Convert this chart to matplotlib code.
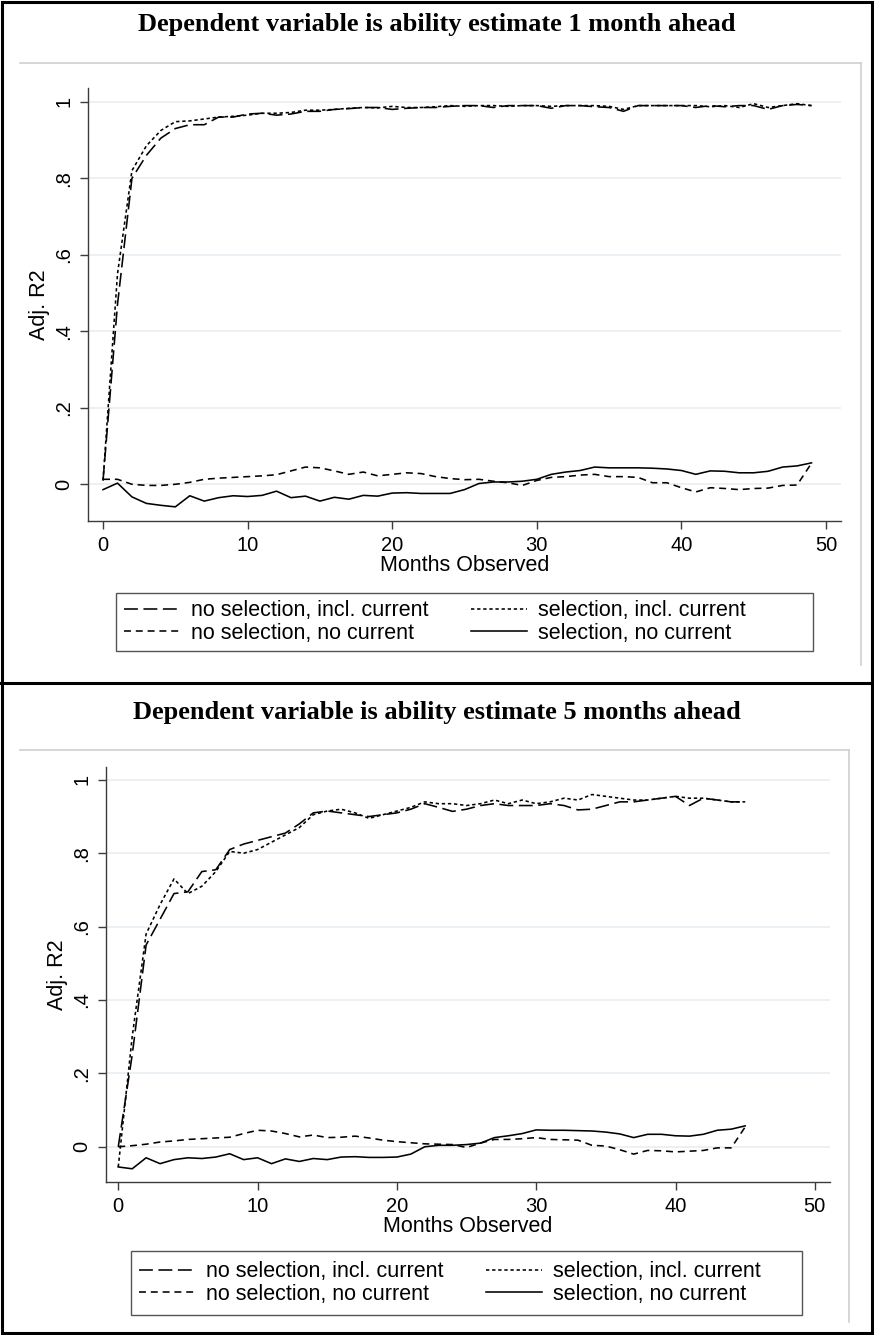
import matplotlib
matplotlib.use('Agg')
import matplotlib.pyplot as plt
from matplotlib.lines import Line2D
from matplotlib.patches import Rectangle

plt.rcParams['font.family'] = ['Liberation Sans', 'DejaVu Sans']
plt.rcParams['lines.scale_dashes'] = False

# ---- data: panel 1 (ability estimate 1 month ahead) ----
months_1 = list(range(50))
nosel_incl_1 = [0.01, 0.47, 0.80, 0.86, 0.905, 0.93, 0.94, 0.94, 0.96, 0.96,
                0.968, 0.97, 0.965, 0.968, 0.975, 0.975, 0.98, 0.982, 0.985, 0.985,
                0.98, 0.983, 0.985, 0.985, 0.988, 0.99, 0.99, 0.985, 0.99, 0.99,
                0.99, 0.983, 0.99, 0.99, 0.987, 0.985, 0.975, 0.99, 0.99, 0.99,
                0.99, 0.985, 0.99, 0.987, 0.99, 0.99, 0.98, 0.99, 0.993, 0.99]
sel_incl_1 = [0.01, 0.55, 0.82, 0.885, 0.925, 0.948, 0.95, 0.955, 0.96, 0.962,
              0.965, 0.97, 0.97, 0.972, 0.978, 0.978, 0.98, 0.983, 0.985, 0.984,
              0.988, 0.985, 0.985, 0.987, 0.99, 0.988, 0.99, 0.99, 0.988, 0.99,
              0.99, 0.988, 0.99, 0.99, 0.99, 0.988, 0.98, 0.99, 0.99, 0.99,
              0.99, 0.99, 0.987, 0.99, 0.985, 0.995, 0.985, 0.99, 0.995, 0.99]
nosel_nocur_1 = [0.013, 0.013, 0.0, -0.003, -0.003, 0.0, 0.005, 0.013, 0.016, 0.018,
                 0.02, 0.022, 0.025, 0.035, 0.045, 0.043, 0.035, 0.026, 0.032, 0.022,
                 0.026, 0.03, 0.028, 0.02, 0.015, 0.012, 0.013, 0.008, 0.004, -0.003,
                 0.01, 0.018, 0.02, 0.024, 0.026, 0.02, 0.02, 0.018, 0.004, 0.004,
                 -0.009, -0.02, -0.009, -0.011, -0.014, -0.011, -0.01, -0.003, -0.002, 0.055]
sel_nocur_1 = [-0.014, 0.003, -0.033, -0.05, -0.055, -0.059, -0.03, -0.044, -0.035, -0.03,
               -0.032, -0.029, -0.018, -0.035, -0.031, -0.044, -0.034, -0.039, -0.029, -0.031,
               -0.023, -0.022, -0.024, -0.024, -0.024, -0.014, 0.002, 0.006, 0.006, 0.008,
               0.013, 0.026, 0.032, 0.036, 0.045, 0.043, 0.043, 0.043, 0.042, 0.04,
               0.036, 0.026, 0.035, 0.034, 0.03, 0.03, 0.034, 0.045, 0.048, 0.056]

# ---- data: panel 2 (ability estimate 5 months ahead) ----
months_5 = list(range(46))
nosel_incl_5 = [0.0, 0.25, 0.55, 0.62, 0.69, 0.695, 0.75, 0.755, 0.81, 0.825,
                0.835, 0.845, 0.855, 0.88, 0.91, 0.915, 0.91, 0.905, 0.90, 0.905,
                0.91, 0.92, 0.935, 0.925, 0.914, 0.92, 0.93, 0.935, 0.93, 0.93,
                0.93, 0.935, 0.93, 0.918, 0.92, 0.93, 0.94, 0.94, 0.945, 0.95,
                0.955, 0.93, 0.95, 0.945, 0.94, 0.94]
sel_incl_5 = [-0.055, 0.30, 0.58, 0.66, 0.73, 0.69, 0.71, 0.75, 0.805, 0.80,
              0.81, 0.83, 0.85, 0.87, 0.905, 0.915, 0.92, 0.91, 0.895, 0.905,
              0.915, 0.925, 0.94, 0.935, 0.935, 0.93, 0.935, 0.945, 0.935, 0.945,
              0.935, 0.94, 0.95, 0.945, 0.96, 0.955, 0.95, 0.945, 0.945, 0.95,
              0.955, 0.95, 0.95, 0.945, 0.94, 0.94]
nosel_nocur_5 = [0.0, 0.003, 0.007, 0.013, 0.016, 0.02, 0.022, 0.024, 0.026, 0.036,
                 0.045, 0.043, 0.036, 0.027, 0.032, 0.025, 0.026, 0.029, 0.024, 0.018,
                 0.014, 0.011, 0.008, 0.007, 0.006, -0.002, 0.01, 0.02, 0.02, 0.022,
                 0.025, 0.02, 0.019, 0.018, 0.004, 0.002, -0.008, -0.02, -0.01, -0.011,
                 -0.014, -0.012, -0.01, -0.003, -0.003, 0.054]
sel_nocur_5 = [-0.055, -0.06, -0.03, -0.046, -0.035, -0.03, -0.032, -0.028, -0.019, -0.035,
               -0.03, -0.046, -0.033, -0.04, -0.032, -0.035, -0.028, -0.027, -0.029, -0.029,
               -0.028, -0.02, 0.0, 0.004, 0.004, 0.006, 0.01, 0.025, 0.03, 0.036,
               0.046, 0.045, 0.045, 0.044, 0.043, 0.04, 0.035, 0.025, 0.034, 0.034,
               0.03, 0.029, 0.034, 0.045, 0.048, 0.057]

y_ticks = [0, 0.2, 0.4, 0.6, 0.8, 1.0]
y_tick_labels = ['0', '.2', '.4', '.6', '.8', '1']
x_ticks = [0, 10, 20, 30, 40, 50]
series_labels = ['no selection, incl. current', 'selection, incl. current',
                 'no selection, no current', 'selection, no current']
titles = ['Dependent variable is ability estimate 1 month ahead',
          'Dependent variable is ability estimate 5 months ahead']

W, H = 874, 1335
fig = plt.figure(figsize=(W / 100, H / 100), dpi=100)


def rect(left, top, right, bottom):
    # pixel box (origin top-left) -> figure fraction [x, y, w, h]
    return [left / W, 1 - bottom / H, (right - left) / W, (bottom - top) / H]


def fig_line(xs, ys, **kw):
    fig.add_artist(Line2D([x / W for x in xs], [1 - y / H for y in ys],
                          transform=fig.transFigure, **kw))


# line styles: long dash, short dash (dotted look), dash, solid
styles = [dict(linestyle=(0, (10, 4))),
          dict(linestyle=(0, (2.4, 2.0))),
          dict(linestyle=(0, (5, 3.5))),
          dict(linestyle='-')]

axis_col = '#3c3c3c'
grid_col = '#e6eef1'


def draw_panel(box, xlim, ylim, x, series, title, title_y, region, legend_box):
    # title
    fig.text(0.5, 1 - title_y / H, title, ha='center', va='center',
             family=['Liberation Serif', 'DejaVu Serif'], weight='bold', size=19)

    # light grey graph-region outline (top and right edges)
    gx0, gy0, gx1, gy1 = region
    fig_line([gx0, gx1], [gy0, gy0], color='#cfcfcf', lw=1.2)
    fig_line([gx1, gx1], [gy0, gy1], color='#cfcfcf', lw=1.2)

    ax = fig.add_axes(rect(*box))
    handles = []
    for ys, st in zip(series, styles):
        h, = ax.plot(x, ys, color='black', lw=1.15, **st)
        handles.append(h)

    ax.set_xlim(*xlim)
    ax.set_ylim(*ylim)
    ax.set_xticks(x_ticks)
    ax.set_yticks(y_ticks)
    ax.set_yticklabels(y_tick_labels, rotation=90, va='center')
    ax.tick_params(axis='both', direction='out', length=6, width=1,
                   color=axis_col, labelsize=14.5, labelcolor='black')
    ax.tick_params(axis='x', pad=5)
    ax.tick_params(axis='y', pad=4.5)
    for side in ['top', 'right']:
        ax.spines[side].set_visible(False)
    for side in ['left', 'bottom']:
        ax.spines[side].set_color(axis_col)
        ax.spines[side].set_linewidth(1.0)
    ax.yaxis.grid(True, color=grid_col, lw=1.2)
    ax.set_axisbelow(True)

    ax.set_xlabel('Months Observed', fontsize=15.5, labelpad=0)
    ax.set_ylabel('Adj. R2', fontsize=15.5, labelpad=3)

    # legend box drawn by hand (Stata keeps equal-width columns)
    lx0, ly0, lx1, ly1 = legend_box
    fig.add_artist(Rectangle((lx0 / W, 1 - ly1 / H), (lx1 - lx0) / W, (ly1 - ly0) / H,
                             fill=False, edgecolor='#555555', lw=1.0,
                             transform=fig.transFigure))
    order = [0, 2, 1, 3]
    ax.legend([handles[i] for i in order], [series_labels[i] for i in order],
              ncol=2, loc='center left',
              bbox_to_anchor=((lx0 + 8) / W, 1 - (ly0 + ly1) / 2 / H),
              bbox_transform=fig.transFigure, borderaxespad=0, borderpad=0,
              frameon=False, fontsize=15.5, handlelength=2.6, handletextpad=0.5,
              columnspacing=2.0, labelspacing=0.05)
    return ax


draw_panel(box=(88, 88, 841, 521), xlim=(-1.04, 51.04), ylim=(-0.096, 1.036),
           x=months_1, series=[nosel_incl_1, sel_incl_1, nosel_nocur_1, sel_nocur_1],
           title=titles[0], title_y=24, region=(20, 63, 861, 665),
           legend_box=(116, 593, 813, 651))

draw_panel(box=(106, 767, 830, 1182), xlim=(-0.88, 51.09), ylim=(-0.096, 1.035),
           x=months_5, series=[nosel_incl_5, sel_incl_5, nosel_nocur_5, sel_nocur_5],
           title=titles[1], title_y=712, region=(20, 750, 849, 1322),
           legend_box=(131, 1251, 802, 1315))

# black outer frame and panel separator
fig.add_artist(Rectangle((2 / W, 2 / H), (W - 4) / W, (H - 4) / H, fill=False,
                         edgecolor='black', lw=2.2, transform=fig.transFigure))
fig_line([0, W], [683, 683], color='black', lw=2.2)

fig.savefig('out.png', dpi=100)
